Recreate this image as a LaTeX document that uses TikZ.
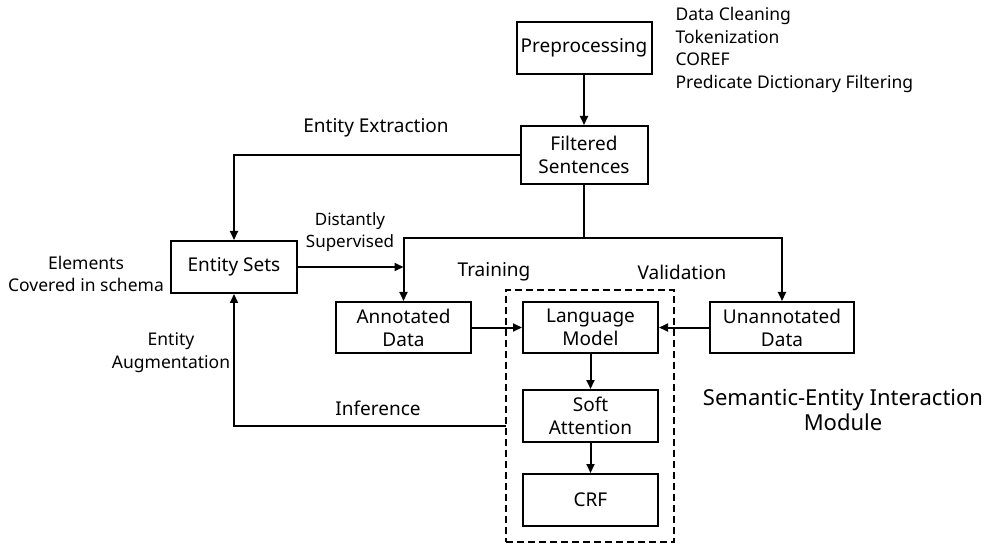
\documentclass[tikz,border=0pt]{standalone}
\usepackage{fontspec}
\setmainfont{Noto Sans}
\usetikzlibrary{arrows.meta}

\begin{document}
\begin{tikzpicture}[x=1pt,y=-1pt,
    every node/.style={font=\fontsize{17.5}{22.7}\selectfont},
    box/.style={draw,line width=2pt,align=center,inner sep=0pt,
      font=\fontsize{19}{23}\selectfont,
      minimum width=135pt,minimum height=52pt},
    lbl/.style={font=\fontsize{19}{23}\selectfont},
    arr/.style={line width=2pt,-{Triangle[length=9pt,width=8pt]}},
    link/.style={line width=2pt}]
  \useasboundingbox (0,0) rectangle (985,545);
  \node[box] (pre) at (584,48) {Preprocessing};
  \node[box,minimum width=127pt,minimum height=58pt] (filt) at (584,155) {Filtered\\Sentences};
  \node[box,minimum width=126pt] (ents) at (234,267) {Entity Sets};
  \node[box,minimum height=51pt] (anno) at (403.5,327.5) {Annotated\\Data};
  \node[box,minimum height=51pt] (lm) at (590.5,327.5) {Language\\Model};
  \node[box] (soft) at (590.5,416) {Soft\\Attention};
  \node[box] (crf) at (590.5,500) {CRF};
  \node[box,minimum width=144pt,minimum height=51pt] (unan) at (782,327.5) {Unannotated\\Data};
  \node[draw,line width=2pt,dash pattern=on 7pt off 4pt,inner sep=0pt,
    minimum width=168pt,minimum height=252pt] (semi) at (590,416) {};
  \coordinate (split) at (584,238);
  \coordinate (inf) at (506,426);
  % labels
  \node[anchor=west,align=left] (steps) at (672,50)
    {Data Cleaning\\Tokenization\\COREF\\Predicate Dictionary Filtering};
  \node[lbl] (lbl-ex) at (376,128) {Entity Extraction};
  \node[align=center,font=\fontsize{17}{22.7}\selectfont] (lbl-ds) at (350,232) {Distantly\\Supervised};
  \node[align=center] (elem) at (86,274) {Elements\\Covered in schema};
  \node[align=center] (aug) at (171,353) {Entity\\Augmentation};
  \node[lbl] (lbl-tr) at (494,272) {Training};
  \node[lbl] (lbl-va) at (682,272) {Validation};
  \node[lbl] (lbl-in) at (378,408) {Inference};
  \node[align=center,font=\fontsize{22}{25.5}\selectfont] (mod) at (843,410)
    {Semantic-Entity Interaction\\Module};
  % connectors
  \draw[arr] (pre) -- (filt);
  \draw[arr] (filt.west) -| (ents.north);
  \draw[link] (filt) -- (split);
  \draw[arr] (split) -| (anno.north);
  \draw[arr] (split) -| (unan.north);
  \draw[arr] (ents.east) -- (ents.east -| anno.north);
  \foreach \a/\b in {anno/lm,unan/lm,lm/soft,soft/crf}
    \draw[arr] (\a) -- (\b);
  \draw[arr] (inf) -| (ents.south);
\end{tikzpicture}
\end{document}
